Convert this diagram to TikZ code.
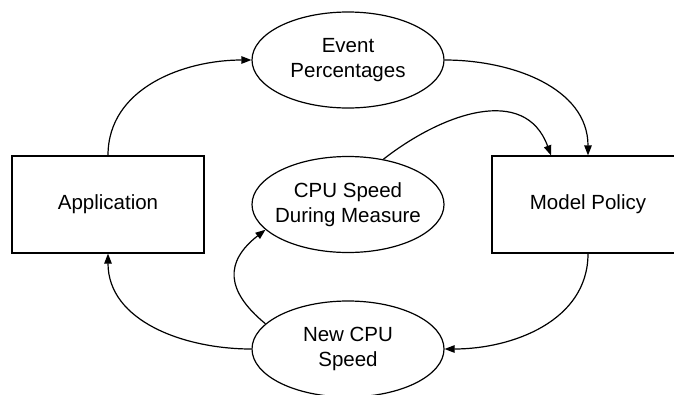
\documentclass[tikz,border=0pt]{standalone}
\usepackage{fontspec}
\setmainfont{Liberation Sans}
\usetikzlibrary{arrows.meta,shapes.geometric}
\begin{document}
\begin{tikzpicture}[x=1pt,y=-1pt,
  every node/.style={font=\fontsize{20.5}{25}\selectfont, align=center, line width=1.2pt, inner sep=0pt},
  boxnode/.style={draw, rectangle, minimum width=192pt, minimum height=97pt},
  ellnode/.style={draw, ellipse, minimum width=192pt, minimum height=96pt},
  arr/.style={line width=1.2pt, -{Triangle[length=10pt,width=7.5pt]}}]
\useasboundingbox (0,0) rectangle (674,394);
\clip (0,0) rectangle (674,394);
\node[boxnode] (app) at (108,204.5) {Application};
\node[boxnode] (mp) at (588,204.5) {Model Policy};
\node[ellnode] (ev) at (348,60) {};
\node (evt) at (ev) {Event\\Percentages};
\node[ellnode] (cpu) at (348,204.5) {};
\node (cput) at (cpu) {CPU Speed\\During Measure};
\node[ellnode] (new) at (348,349) {};
\node (newt) at (new) {New CPU\\Speed};
\draw[arr] (app.north) to[out=90,in=180] (ev.west);
\draw[arr] (ev.east) to[out=0,in=90] (mp.north);
\draw[arr] (cpu.52) to[out=38,in=110,looseness=1.15] ([xshift=-37pt]mp.north);
\draw[arr] (mp.south) to[out=-90,in=0] (new.east);
\draw[arr] (new.west) to[out=180,in=-90] (app.south);
\draw[arr] (new.163) .. controls +(-40,-33) and +(-41,32) .. (cpu.197);
\end{tikzpicture}
\end{document}
